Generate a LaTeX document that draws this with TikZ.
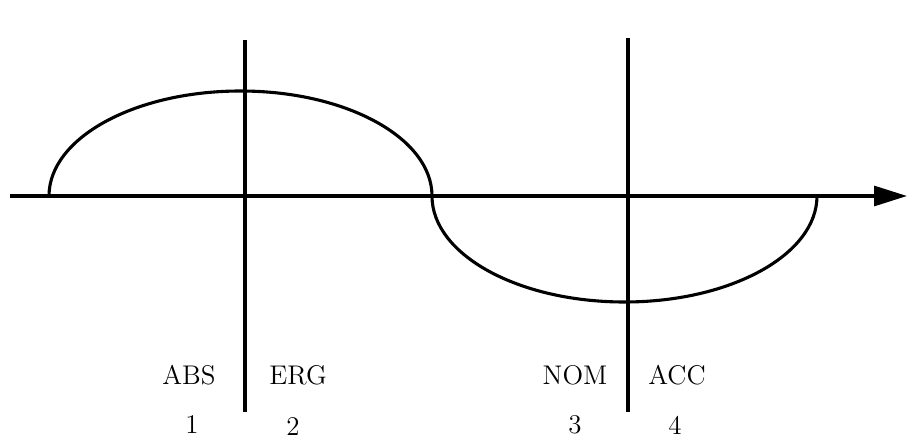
\documentclass[tikz,border=0pt]{standalone}
\usepackage{tikz}
\usetikzlibrary{arrows.meta}

\begin{document}
\begin{tikzpicture}[
        x=0.5pt, y=0.5pt,
        axisline/.style={line width=1.55pt},
        divider/.style={line width=1.55pt},
        wave/.style={line width=1.55pt},
        caselabel/.style={font=\fontsize{13.5}{15}\selectfont, inner sep=0pt},
        numlabel/.style={font=\fontsize{13.5}{15}\selectfont, inner sep=0pt},
        >={Triangle[length=16.5pt, width=10pt]}
      ]

      \useasboundingbox (0,0) rectangle (907,440);

      % axis and the two dividers
      \coordinate (axisstart) at (10,244);
      \coordinate (axisend) at (907,244);
      \coordinate (ltop) at (245,400);
      \coordinate (lbot) at (245,28);
      \coordinate (rtop) at (628,402);
      \coordinate (rbot) at (628,28);

      \draw[axisline, ->] (axisstart) -- (axisend);
      \draw[divider] (ltop) -- (lbot);
      \draw[divider] (rtop) -- (rbot);

      % the wave
      \coordinate (wavestart) at (49,244);
      \draw[wave] (wavestart) arc[start angle=180, end angle=0, x radius=191.5, y radius=105]
                  arc[start angle=180, end angle=360, x radius=192.5, y radius=106];

      \node[caselabel] (abs) at (189,65) {ABS};
      \node[caselabel] (erg) at (298,65) {ERG};
      \node[caselabel] (nom) at (575,65) {NOM};
      \node[caselabel] (acc) at (677,65) {ACC};

      \node[numlabel] (n1) at (192,15) {1};
      \node[numlabel] (n2) at (293,13) {2};
      \node[numlabel] (n3) at (575,15) {3};
      \node[numlabel] (n4) at (675,15) {4};

    \end{tikzpicture}
\end{document}
